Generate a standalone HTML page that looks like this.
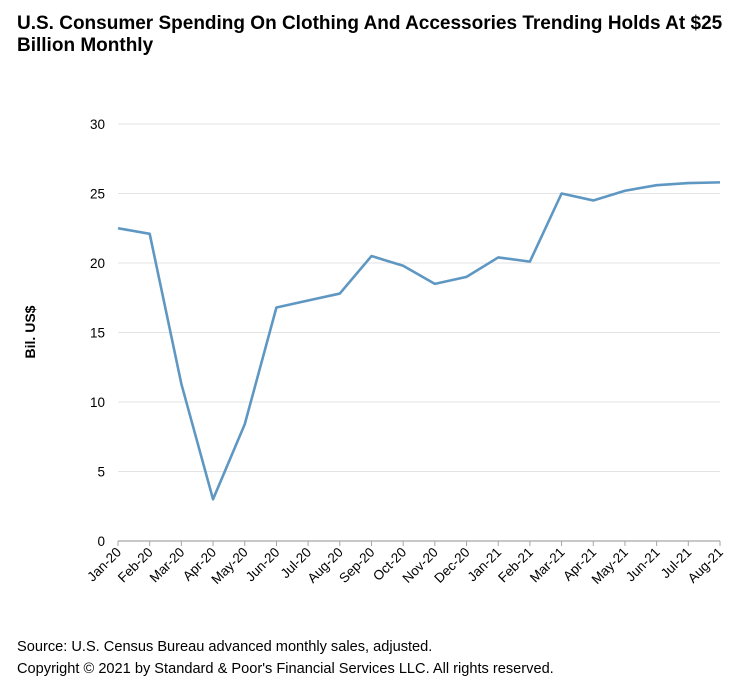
<!DOCTYPE html>
<html><head><meta charset="utf-8"><style>
body{margin:0;background:#fff;font-family:"Liberation Sans",Arial,sans-serif}
#c{position:relative;width:740px;height:700px}
.t{position:absolute;left:17px;top:13px;font-size:19px;font-weight:bold;line-height:22px;color:#000;width:720px}
.f{position:absolute;left:17px;font-size:14.6px;color:#000}
</style></head><body>
<div id="c">
<div class="t">U.S. Consumer Spending On Clothing And Accessories Trending Holds At $25<br>Billion Monthly</div>
<svg id="s" width="740" height="700" style="position:absolute;left:0;top:0"></svg>
<div class="f" style="top:639px">Source: U.S. Census Bureau advanced monthly sales, adjusted.</div>
<div class="f" style="top:661px">Copyright © 2021 by Standard &amp; Poor's Financial Services LLC. All rights reserved.</div>
</div>
<script>
const categories=["Jan-20","Feb-20","Mar-20","Apr-20","May-20","Jun-20","Jul-20","Aug-20","Sep-20","Oct-20","Nov-20","Dec-20","Jan-21","Feb-21","Mar-21","Apr-21","May-21","Jun-21","Jul-21","Aug-21"];
const values=[22.5,22.1,11.3,3.0,8.4,16.8,17.3,17.8,20.5,19.8,18.5,19.0,20.4,20.1,25.0,24.5,25.2,25.6,25.75,25.8];
const yTicks=[0,5,10,15,20,25,30];
const NS="http://www.w3.org/2000/svg",s=document.getElementById('s');
const x0=118,x1=720,y0=541,y1=124;
const X=i=>x0+i*(x1-x0)/(categories.length-1);
const Y=v=>y0-(v/30)*(y0-y1);
function el(t,a,p){const e=document.createElementNS(NS,t);for(const k in a)e.setAttribute(k,a[k]);(p||s).appendChild(e);return e;}
yTicks.forEach(v=>{
 if(v>0){const g=el('line',{x1:x0,x2:x1,y1:Y(v),y2:Y(v),stroke:'#e3e3e3','stroke-width':1});
 
 }
 const t=el('text',{x:105,y:Y(v)+5,'text-anchor':'end','font-size':13.5,'font-family':'Liberation Sans,Arial,sans-serif'});
 t.textContent=v;
 
 
});
const ax=el('line',{x1:x0,x2:x1,y1:y0,y2:y0,stroke:'#a6a6a6','stroke-width':1.2});


categories.forEach((c,i)=>{
 const tk=el('line',{x1:X(i),x2:X(i),y1:y0,y2:y0+5,stroke:'#a6a6a6'});
 
 
 const t=el('text',{x:X(i)+4,y:y0+12,'text-anchor':'end','font-size':13.5,'font-family':'Liberation Sans,Arial,sans-serif',transform:`rotate(-45 ${X(i)+4} ${y0+12})`});
 t.textContent=c;
 
 
});
const yt=el('text',{x:35,y:332,'text-anchor':'middle','font-size':14,'font-weight':'bold','font-family':'Liberation Sans,Arial,sans-serif',transform:'rotate(-90 35 332)'});
yt.textContent='Bil. US$';


const ln=el('polyline',{points:values.map((v,i)=>X(i)+','+Y(v)).join(' '),fill:'none',stroke:'#5f97c3','stroke-width':2.6,'stroke-linejoin':'round'});


</script>
</body></html>
